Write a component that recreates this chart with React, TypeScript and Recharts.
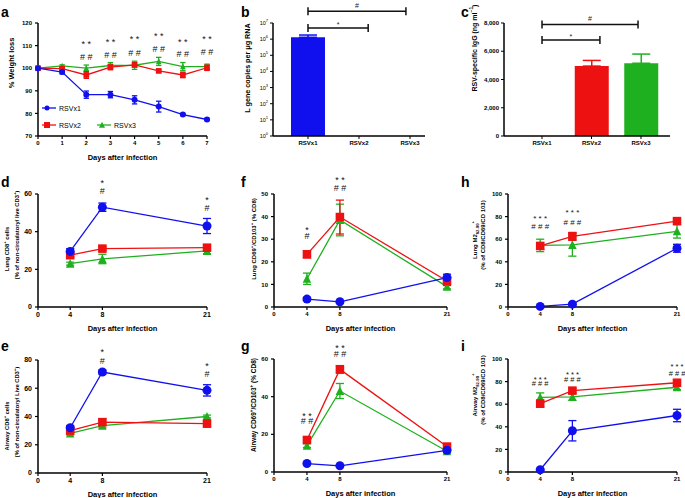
import { LineChart, Line, BarChart, Bar, XAxis, YAxis, ErrorBar, ReferenceDot, ReferenceLine } from "recharts";

const FONT = "'Liberation Sans', Arial, Helvetica, sans-serif";
const BLUE = "#1010ee";
const RED = "#ee1111";
const GREEN = "#1fb01f";

// panel a: weight
const daysA = [0, 1, 2, 3, 4, 5, 6, 7];
const weightX1 = [100, 98.3, 88.3, 88.3, 86, 83, 79.5, 77.3];
const weightX1Err = [0, 0.8, 1.6, 1.4, 1.8, 2.4, 0.5, 0.5];
const weightX2 = [100, 99.8, 97, 100.5, 101.5, 98.8, 97, 100.2];
const weightX2Err = [0, 0.6, 1.5, 1.2, 1, 0.6, 1.2, 1.2];
const weightX3 = [100, 101, 100, 101.2, 101.3, 103, 100.7, 100.7];
const weightX3Err = [0, 0.5, 1.4, 1.3, 1.8, 1.8, 1.8, 1.1];
const noteDaysA = [2, 3, 4, 5, 6, 7, 2, 3, 4, 5, 6, 7];
const noteYA = [112, 112.8, 114, 115.4, 112.8, 114.4, 105.1, 105.8, 106.9, 108.4, 106.1, 107.3];
const noteTextA = ["* *", "* *", "* *", "* *", "* *", "* *", "# #", "# #", "# #", "# #", "# #", "# #"];

// panel b: L gene copies
const groups = ["RSVx1", "RSVx2", "RSVx3"];
const lGene = [1.3e6, null, null];
const lGeneErr = [5e5, 0, 0];
const bBracketTo = [1.18, 1.92];
const bBracketY = [10 ** 6.69, 10 ** 7.73];
const bBracketText = ["*", "#"];

// panel c: IgG
const igg = [0, 4950, 5150];
const iggErr = [0, 400, 650];
const cBracketTo = [1.17, 1.94];
const cBracketY = [6800, 7900];
const cBracketText = ["*", "#"];

// time course panels
const days = [4, 8, 21];
const dX1 = [29.5, 53, 43], dX1Err = [1.5, 2.2, 4];
const dX2 = [27.5, 31, 31.5], dX2Err = [0.8, 1, 1];
const dX3 = [23, 25.5, 29.8], dX3Err = [0.8, 2.5, 1.5];
const dNoteDays = [8, 8, 21, 21], dNoteY = [67.4, 61.6, 58.4, 52.6], dNoteText = ["*", "#", "*", "#"];

const eX1 = [32, 71.5, 58.5], eX1Err = [1.5, 1.5, 4];
const eX2 = [30, 36, 35], eX2Err = [1, 2.5, 2.5];
const eX3 = [28, 33.5, 40], eX3Err = [1, 1.5, 1];
const eNoteDays = [8, 8, 21, 21], eNoteY = [87.8, 79.3, 77.9, 70], eNoteText = ["*", "#", "*", "#"];

const fX1 = [3.5, 2.3, 13], fX1Err = [0.8, 0.5, 1.5];
const fX2 = [23.3, 39.8, 11.5], fX2Err = [1.5, 7.5, 2];
const fX3 = [12.5, 38.5, 9], fX3Err = [2.5, 7, 1];
const fNoteDays = [4, 4, 8, 8], fNoteY = [35.4, 31.4, 57.5, 52.7], fNoteText = ["*", "#", "* *", "# #"];

const gX1 = [4.5, 3.3, 11.5], gX1Err = [0.5, 0.5, 1];
const gX2 = [17, 54.5, 13.5], gX2Err = [1, 2, 1.5];
const gX3 = [14, 43, 11], gX3Err = [1, 4, 1];
const gNoteDays = [4, 4, 8, 8], gNoteY = [31.3, 27, 67.4, 62.7], gNoteText = ["* *", "# #", "* *", "# #"];

const hX1 = [0.5, 2.5, 52], hX1Err = [0.5, 0.8, 3.5];
const hX2 = [54, 62.5, 76], hX2Err = [3, 3.5, 1.5];
const hX3 = [54.5, 55, 67], hX3Err = [5.5, 10, 6];
const hNoteDays = [4, 4, 8, 8], hNoteY = [80.5, 70.8, 85.8, 75.2], hNoteText = ["* * *", "# # #", "* * *", "# # #"];

const iX1 = [2, 36.5, 50], iX1Err = [0.5, 9, 5.5];
const iX2 = [60.5, 72, 79], iX2Err = [3, 2, 2];
const iX3 = [66, 66.5, 75], iX3Err = [4, 3, 2];
const iNoteDays = [4, 4, 8, 8, 21, 21], iNoteY = [84, 78, 88.5, 82, 95.6, 87.6];
const iNoteText = ["* * *", "# # #", "* * *", "# # #", "* * *", "# # #"];

const buildRows = (xs: number[], a: number[], ae: number[], b: number[], be: number[], c: number[], ce: number[]) =>
  xs.map((day, i) => ({ day, x1: a[i], x1e: ae[i], x2: b[i], x2e: be[i], x3: c[i], x3e: ce[i] }));

const buildNotes = (xs: number[], ys: number[], texts: string[]) => xs.map((day, i) => ({ day, y: ys[i], text: texts[i] }));

const SERIES = [
  { key: "x3", err: "x3e", color: GREEN, kind: "triangle" },
  { key: "x2", err: "x2e", color: RED, kind: "square" },
  { key: "x1", err: "x1e", color: BLUE, kind: "circle" },
];

function Marker({ cx, cy, kind, size, color }: any) {
  if (cx == null || cy == null) return null;
  if (kind === "circle") return <circle cx={cx} cy={cy} r={size / 2} fill={color} />;
  if (kind === "square") return <rect x={cx - size / 2} y={cy - size / 2} width={size} height={size} fill={color} />;
  const h = size * 0.95;
  return <polygon points={`${cx},${cy - h / 2 - 0.5} ${cx - size / 2},${cy + h / 2} ${cx + size / 2},${cy + h / 2}`} fill={color} />;
}

function NoteText({ cx, cy, text, size }: any) {
  if (cx == null || cy == null) return null;
  const star = text.includes("*");
  return (
    <text x={cx} y={cy} dy={star ? size * 0.32 : 0} textAnchor="middle" dominantBaseline="central" fontFamily={FONT} fontSize={size} fill="#111">
      {text}
    </text>
  );
}

const axisProps = { stroke: "#000", strokeWidth: 1.5 };

function TimePanel({ x0, x1, y0, y1, rows, xTicks, yTicks, notes, size, tickSize, noteSize = 9 }: any) {
  const mt = 26, mr = 10, ml = 10, yW = 30, xH = 30, mb = 4;
  const width = x1 - x0 + ml + yW + mr;
  const height = y1 - y0 + mt + xH + mb;
  const tick = { fontSize: tickSize, fontWeight: "bold", fill: "#000", fontFamily: FONT };
  return (
    <div style={{ position: "absolute", left: x0 - ml - yW, top: y0 - mt }}>
      <LineChart width={width} height={height} data={rows} margin={{ top: mt, right: mr, bottom: mb, left: ml }}>
        <XAxis
          type="number"
          dataKey="day"
          domain={[xTicks[0], xTicks[xTicks.length - 1]]}
          ticks={xTicks}
          interval={0}
          height={xH}
          axisLine={axisProps}
          tickLine={{ stroke: "#000", strokeWidth: 1.2 }}
          tickSize={3}
          tickMargin={2}
          tick={tick}
          label={{ value: "Days after infection", position: "insideBottom", offset: 6, style: { fontFamily: FONT, fontWeight: "bold", fontSize: 7.5, fill: "#000" } }}
        />
        <YAxis
          type="number"
          domain={[yTicks[0], yTicks[yTicks.length - 1]]}
          ticks={yTicks}
          interval={0}
          width={yW}
          axisLine={axisProps}
          tickLine={{ stroke: "#000", strokeWidth: 1.2 }}
          tickSize={3}
          tickMargin={3}
          tick={tick}
        />
        {SERIES.map((s) => (
          <Line
            key={s.key}
            dataKey={s.key}
            stroke={s.color}
            strokeWidth={1.3}
            isAnimationActive={false}
            dot={(p: any) => <Marker key={`${s.key}-${p.index}`} cx={p.cx} cy={p.cy} kind={s.kind} size={s.kind === "circle" ? size : size * 0.95} color={s.color} />}
            activeDot={false}
          >
            <ErrorBar dataKey={s.err} direction="y" width={size * 0.45} stroke={s.color} strokeWidth={1.3} isAnimationActive={false} />
          </Line>
        ))}
        {notes.map((n: any, i: number) => (
          <ReferenceDot
            key={i}
            x={n.day}
            y={n.y}
            r={0}
            ifOverflow="visible"
            shape={(p: any) => <NoteText cx={p.cx} cy={p.cy} text={n.text} size={noteSize} />}
          />
        ))}
      </LineChart>
    </div>
  );
}

function Bracket({ x1, y1, x2, y2, text }: any) {
  if (x1 == null || y1 == null) return null;
  const star = text === "*";
  return (
    <g>
      <path d={`M${x1},${y1}L${x2},${y2}M${x1},${y1 - 4}V${y1 + 4}M${x2},${y2 - 4}V${y2 + 4}`} stroke="#111" strokeWidth={1.5} fill="none" />
      <text x={(x1 + x2) / 2} y={y1 - 6} dy={star ? 2.5 : 0} textAnchor="middle" dominantBaseline="central" fontFamily={FONT} fontSize={7} fill="#222">
        {text}
      </text>
    </g>
  );
}

function PowTick({ x, y, payload }: any) {
  const n = Math.round(Math.log10(payload.value));
  return (
    <text x={x} y={y} dy={2} textAnchor="end" fontFamily={FONT} fontSize={5.5} fill="#000">
      10
      <tspan dy={-3} fontSize={4}>
        {n}
      </tspan>
    </text>
  );
}

const catTick = { fontSize: 6, fontWeight: "bold", fill: "#000", fontFamily: FONT };

function PanelB() {
  const rows = groups.map((g, i) => ({ pos: i, v: lGene[i], e: lGeneErr[i] ? [0, lGeneErr[i]] : undefined })).filter((r) => r.v != null);
  // plot: x 273..425, y 23..136
  return (
    <div style={{ position: "absolute", left: 233, top: 0 }}>
      <BarChart width={227} height={170} data={rows} margin={{ top: 23, right: 35, bottom: 4, left: 10 }}>
        <XAxis
          type="number"
          dataKey="pos"
          domain={[-0.686, 2.294]}
          ticks={[0, 1, 2]}
          interval={0}
          tickFormatter={(i: number) => groups[i]}
          height={30}
          axisLine={axisProps}
          tickLine={{ stroke: "#000" }}
          tickSize={3}
          tick={catTick}
        />
        <YAxis
          type="number"
          scale="log"
          domain={[1, 1e7]}
          ticks={[1, 10, 100, 1e3, 1e4, 1e5, 1e6, 1e7]}
          interval={0}
          width={30}
          axisLine={axisProps}
          tickLine={{ stroke: "#000" }}
          tickSize={3}
          tick={<PowTick />}
          allowDataOverflow
        />
        <Bar dataKey="v" fill={BLUE} barSize={34} isAnimationActive={false}>
          <ErrorBar dataKey="e" direction="y" width={9} stroke={BLUE} strokeWidth={1.5} isAnimationActive={false} />
        </Bar>
        {bBracketY.map((y, i) => (
          <ReferenceLine
            key={i}
            segment={[{ x: 0, y }, { x: bBracketTo[i], y }]}
            ifOverflow="visible"
            shape={(p: any) => <Bracket {...p} text={bBracketText[i]} />}
          />
        ))}
      </BarChart>
    </div>
  );
}

function PanelC() {
  const colors = [BLUE, RED, GREEN];
  const rows = groups.map((g, i) => ({ pos: i, [g]: igg[i], [g + "e"]: iggErr[i] ? [0, iggErr[i]] : undefined }));
  // plot: x 504..670, y 23..136
  return (
    <div style={{ position: "absolute", left: 464, top: 0 }}>
      <BarChart width={221} height={170} data={rows} margin={{ top: 23, right: 15, bottom: 4, left: 10 }}>
        <XAxis
          type="number"
          dataKey="pos"
          domain={[-0.768, 2.586]}
          ticks={[0, 1, 2]}
          interval={0}
          tickFormatter={(i: number) => groups[i]}
          height={30}
          axisLine={axisProps}
          tickLine={{ stroke: "#000" }}
          tickSize={3}
          tick={catTick}
        />
        <YAxis
          type="number"
          domain={[0, 8000]}
          ticks={[0, 2000, 4000, 6000, 8000]}
          interval={0}
          tickFormatter={(v: number) => v.toLocaleString("en-US")}
          width={30}
          axisLine={axisProps}
          tickLine={{ stroke: "#000" }}
          tickSize={3}
          tick={catTick}
        />
        {groups.map((g, i) => (
          <Bar key={g} dataKey={g} stackId="s" fill={colors[i]} barSize={34} isAnimationActive={false}>
            <ErrorBar dataKey={g + "e"} direction="y" width={9} stroke={colors[i]} strokeWidth={1.5} isAnimationActive={false} />
          </Bar>
        ))}
        {cBracketY.map((y, i) => (
          <ReferenceLine
            key={i}
            segment={[{ x: 0, y }, { x: cBracketTo[i], y }]}
            ifOverflow="visible"
            shape={(p: any) => <Bracket {...p} text={cBracketText[i]} />}
          />
        ))}
      </BarChart>
    </div>
  );
}

function VLabel({ x, y, size = 7, children }: any) {
  return (
    <div
      style={{
        position: "absolute",
        left: x,
        top: y,
        transform: "translate(-50%, -50%) rotate(-90deg)",
        whiteSpace: "nowrap",
        fontFamily: FONT,
        fontWeight: "bold",
        fontSize: size,
        lineHeight: 1,
        color: "#000",
      }}
    >
      {children}
    </div>
  );
}

function Letter({ x, y, children }: any) {
  return (
    <div style={{ position: "absolute", left: x, top: y, fontFamily: FONT, fontWeight: "bold", fontSize: 14, lineHeight: "14px", color: "#000" }}>
      {children}
    </div>
  );
}

const sup = { fontSize: "70%", verticalAlign: "super", lineHeight: 0 } as const;
const sub = { fontSize: "70%", verticalAlign: "sub", lineHeight: 0 } as const;

function LegendA() {
  const items = [
    { name: "RSVx1", color: BLUE, kind: "circle", x: 42, y: 108 },
    { name: "RSVx2", color: RED, kind: "square", x: 42, y: 125 },
    { name: "RSVx3", color: GREEN, kind: "triangle", x: 97, y: 125 },
  ];
  return (
    <svg width={240} height={165} style={{ position: "absolute", left: 0, top: 0 }}>
      {items.map((it) => (
        <g key={it.name}>
          <line x1={it.x} y1={it.y} x2={it.x + 14} y2={it.y} stroke={it.color} strokeWidth={1.3} />
          <Marker cx={it.x + 5} cy={it.y} kind={it.kind} size={it.kind === "circle" ? 5 : 6} color={it.color} />
          <text x={it.x + 17} y={it.y} dominantBaseline="central" fontFamily={FONT} fontSize={7} fill="#000">
            {it.name}
          </text>
        </g>
      ))}
    </svg>
  );
}

export default function App() {
  const notesA = buildNotes(noteDaysA, noteYA, noteTextA);
  return (
    <div style={{ position: "absolute", left: 0, top: 0, width: 685, height: 498, background: "#fff", overflow: "hidden" }}>
      <TimePanel x0={38} x1={207} y0={23} y1={136} rows={buildRows(daysA, weightX1, weightX1Err, weightX2, weightX2Err, weightX3, weightX3Err)} xTicks={daysA} yTicks={[70, 80, 90, 100, 110, 120]} notes={notesA} size={6} tickSize={6} />
      <LegendA />
      <PanelB />
      <PanelC />
      <TimePanel x0={38} x1={207} y0={194} y1={307} rows={buildRows(days, dX1, dX1Err, dX2, dX2Err, dX3, dX3Err)} xTicks={[0, 4, 8, 21]} yTicks={[0, 20, 40, 60]} notes={buildNotes(dNoteDays, dNoteY, dNoteText)} size={9} tickSize={7} />
      <TimePanel x0={38} x1={207} y0={360} y1={473} rows={buildRows(days, eX1, eX1Err, eX2, eX2Err, eX3, eX3Err)} xTicks={[0, 4, 8, 21]} yTicks={[0, 20, 40, 60, 80]} notes={buildNotes(eNoteDays, eNoteY, eNoteText)} size={9} tickSize={7} />
      <TimePanel x0={274} x1={447} y0={194} y1={307} rows={buildRows(days, fX1, fX1Err, fX2, fX2Err, fX3, fX3Err)} xTicks={[0, 4, 8, 21]} yTicks={[0, 10, 20, 30, 40, 50]} notes={buildNotes(fNoteDays, fNoteY, fNoteText)} size={9} tickSize={6} />
      <TimePanel x0={274} x1={447} y0={359} y1={472} rows={buildRows(days, gX1, gX1Err, gX2, gX2Err, gX3, gX3Err)} xTicks={[0, 4, 8, 21]} yTicks={[0, 20, 40, 60]} notes={buildNotes(gNoteDays, gNoteY, gNoteText)} size={9} tickSize={6} />
      <TimePanel x0={508} x1={677} y0={194} y1={307} rows={buildRows(days, hX1, hX1Err, hX2, hX2Err, hX3, hX3Err)} xTicks={[0, 4, 8, 21]} yTicks={[0, 20, 40, 60, 80, 100]} notes={buildNotes(hNoteDays, hNoteY, hNoteText)} size={9} tickSize={6} noteSize={8} />
      <TimePanel x0={508} x1={677} y0={359} y1={472} rows={buildRows(days, iX1, iX1Err, iX2, iX2Err, iX3, iX3Err)} xTicks={[0, 4, 8, 21]} yTicks={[0, 20, 40, 60, 80, 100]} notes={buildNotes(iNoteDays, iNoteY, iNoteText)} size={9} tickSize={6} noteSize={7.5} />

      <VLabel x={12} y={63} size={7.5}>% Weight loss</VLabel>
      <VLabel x={248} y={68} size={7.2}>L gene copies per μg RNA</VLabel>
      <VLabel x={474} y={48} size={7}>
        RSV-specific IgG (ng ml<span style={sup}>−1</span>)
      </VLabel>
      <VLabel x={8} y={249} size={5.8}>
        Lung CD8<span style={sup}>+</span> cells
      </VLabel>
      <VLabel x={18} y={235} size={5.8}>
        (% of non-circulatory/ live CD3<span style={sup}>+</span>)
      </VLabel>
      <VLabel x={8} y={426} size={5.8}>
        Airway CD8<span style={sup}>+</span> cells
      </VLabel>
      <VLabel x={18} y={412} size={5.8}>
        (% of non-circulatory/ Live CD3<span style={sup}>+</span>)
      </VLabel>
      <VLabel x={254} y={239} size={6}>
        Lung CD69<span style={sup}>+</span>/CD103<span style={sup}>+</span> (% CD8)
      </VLabel>
      <VLabel x={254} y={405} size={6.5}>
        Airway CD69<span style={sup}>+</span>/CD103<span style={sup}>+</span> (% CD8)
      </VLabel>
      <VLabel x={475} y={240} size={6}>
        Lung M2<span style={sub}>82-90</span>
        <span style={sup}>+</span>
      </VLabel>
      <VLabel x={483} y={235} size={6}>(% of CD8/CD69/CD 103)</VLabel>
      <VLabel x={475} y={395} size={6}>
        Airway M2<span style={sub}>82-90</span>
        <span style={sup}>+</span>
      </VLabel>
      <VLabel x={483} y={390} size={6}>(% of CD8/CD69/CD 103)</VLabel>

      <Letter x={1} y={5}>a</Letter>
      <Letter x={241} y={5}>b</Letter>
      <Letter x={461} y={5}>c</Letter>
      <Letter x={1} y={175}>d</Letter>
      <Letter x={241} y={175}>f</Letter>
      <Letter x={461} y={175}>h</Letter>
      <Letter x={1} y={339}>e</Letter>
      <Letter x={241} y={339}>g</Letter>
      <Letter x={461} y={339}>i</Letter>
    </div>
  );
}
